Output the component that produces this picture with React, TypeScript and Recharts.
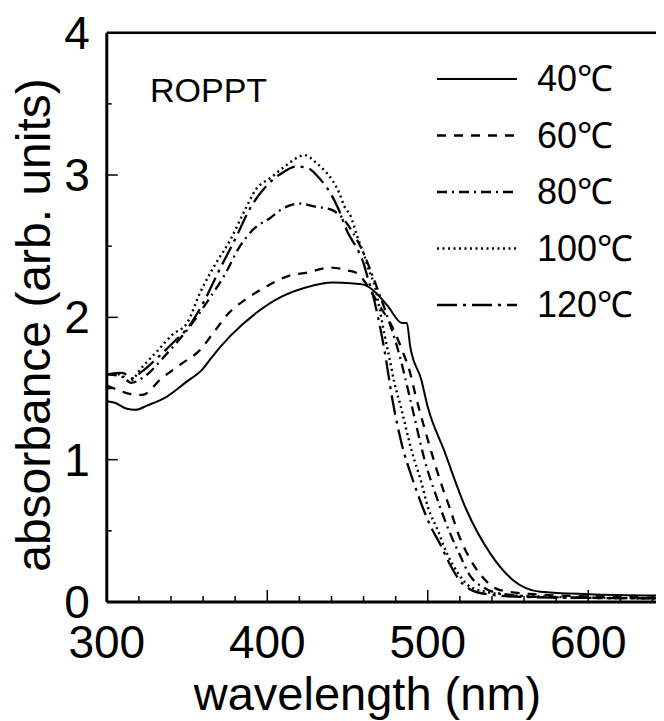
import {
  LineChart,
  Line,
  XAxis,
  YAxis,
  ReferenceLine,
  Legend,
  Label,
  Customized,
} from "recharts";

const FONT = '"Liberation Sans", Arial, Helvetica, sans-serif';

// wavelength (nm) / absorbance, one pair per temperature
const wl40 = [300, 305, 312, 318, 325, 337, 350, 360, 364, 377, 393, 408, 424, 441, 452, 460, 468, 475, 484, 487, 489, 496, 500, 510, 524, 539, 553, 570, 600, 650];
const abs40 = [1.41, 1.4, 1.36, 1.35, 1.38, 1.44, 1.55, 1.64, 1.7, 1.87, 2.03, 2.14, 2.21, 2.245, 2.24, 2.23, 2.17, 2.08, 1.96, 1.96, 1.8, 1.56, 1.37, 1.07, 0.65, 0.34, 0.155, 0.072, 0.055, 0.045];

const wl60 = [300, 307, 315, 322, 334, 346, 358, 367, 376, 387, 400, 413, 425, 439, 450, 456, 462, 470, 478, 484, 489, 492, 500, 509, 514, 519, 525, 533, 545, 566, 600, 650];
const abs60 = [1.52, 1.49, 1.46, 1.455, 1.57, 1.67, 1.77, 1.9, 2.03, 2.13, 2.22, 2.29, 2.315, 2.35, 2.33, 2.31, 2.23, 2.08, 1.93, 1.77, 1.61, 1.47, 1.14, 0.81, 0.65, 0.48, 0.33, 0.19, 0.084, 0.055, 0.04, 0.03];

const wl80 = [300, 310, 315, 323, 337, 352, 362, 373, 383, 391, 402, 409, 420, 429, 439, 445, 452, 460, 467, 475, 482, 490, 498, 506, 514, 520, 526, 535, 545, 570, 650];
const abs80 = [1.6, 1.58, 1.54, 1.58, 1.74, 1.94, 2.1, 2.29, 2.5, 2.615, 2.7, 2.76, 2.8, 2.78, 2.76, 2.72, 2.62, 2.45, 2.25, 2.0, 1.75, 1.38, 1.0, 0.72, 0.48, 0.33, 0.19, 0.1, 0.06, 0.035, 0.025];

const wl100 = [300, 308, 314, 322, 332, 341, 350, 358, 368, 377, 385, 393, 402, 412, 420, 423, 431, 441, 445, 448, 452, 456, 460, 464, 467, 470, 473, 476, 479, 483, 490, 496, 500, 506, 512, 519, 526, 537, 551, 580, 650];
const abs100 = [1.6, 1.6, 1.55, 1.65, 1.77, 1.88, 1.96, 2.17, 2.38, 2.545, 2.73, 2.9, 2.98, 3.07, 3.13, 3.14, 3.08, 2.955, 2.87, 2.78, 2.71, 2.57, 2.45, 2.31, 2.22, 2.06, 1.88, 1.72, 1.55, 1.38, 1.06, 0.84, 0.67, 0.51, 0.34, 0.2, 0.11, 0.07, 0.05, 0.035, 0.025];

const wl120 = [300, 310, 315, 322, 332, 342, 350, 360, 370, 380, 390, 400, 410, 418, 425, 433, 440, 444, 450, 457, 460, 463, 466, 469, 473, 478, 484, 490, 495, 501, 508, 514, 520, 528, 540, 560, 650];
const abs120 = [1.6, 1.61, 1.57, 1.62, 1.72, 1.83, 1.92, 2.1, 2.33, 2.55, 2.78, 2.93, 3.02, 3.06, 3.05, 2.97, 2.86, 2.77, 2.6, 2.46, 2.38, 2.26, 2.15, 2.0, 1.77, 1.42, 1.1, 0.88, 0.72, 0.55, 0.4, 0.26, 0.15, 0.08, 0.05, 0.035, 0.025];

const xTicks = [300, 320, 340, 360, 380, 400, 420, 440, 460, 480, 500, 520, 540, 560, 580, 600, 620, 640];
const yTicks = [0, 0.5, 1, 1.5, 2, 2.5, 3, 3.5, 4];

const toPoints = (xs: number[], ys: number[]) => xs.map((x, i) => ({ x, y: ys[i] }));

const series = [
  { name: "40℃", data: toPoints(wl40, abs40), dash: undefined, width: 2 },
  { name: "60℃", data: toPoints(wl60, abs60), dash: "9 8", width: 2.3 },
  { name: "80℃", data: toPoints(wl80, abs80), dash: "10 5 2 5", width: 2.3 },
  { name: "100℃", data: toPoints(wl100, abs100), dash: "2 3.5", width: 2.4 },
  { name: "120℃", data: toPoints(wl120, abs120), dash: "20 6 3 6", width: 2.3 },
];

const XTick = (props: any) => {
  const { x, y, payload } = props;
  const major = payload.value % 100 === 0;
  return (
    <g>
      <line x1={x} x2={x} y1={y} y2={y - (major ? 12 : 6)} stroke="#000" strokeWidth={1.5} />
      {major && (
        <text x={x} y={y + 56} textAnchor="middle" fontSize={46} fontFamily={FONT} fill="#000">
          {payload.value}
        </text>
      )}
    </g>
  );
};

const YTick = (props: any) => {
  const { x, y, payload } = props;
  const major = Number.isInteger(payload.value);
  return (
    <g>
      <line x1={x} x2={x + (major ? 11 : 5)} y1={y} y2={y} stroke="#000" strokeWidth={1.5} />
      {major && (
        <text x={x - 17} y={y + 16} textAnchor="end" fontSize={46} fontFamily={FONT} fill="#000">
          {payload.value}
        </text>
      )}
    </g>
  );
};

const renderLegend = () => (
  <svg width={250} height={290}>
    {series.map((s, i) => {
      const y = 31 + i * 56.5;
      return (
        <g key={s.name}>
          <line x1={9} x2={89} y1={y} y2={y} stroke="#000" strokeWidth={s.width} strokeDasharray={s.dash} />
          <text x={109} y={y + 12} fontSize={36} fontFamily={FONT} fill="#000">
            {s.name}
          </text>
        </g>
      );
    })}
  </svg>
);

export default function App() {
  return (
    <div style={{ width: 656, height: 713, overflow: "hidden", position: "relative" }}>
      <LineChart width={700} height={714} margin={{ top: 24.7, right: 39.5, bottom: 0, left: 0 }}>
        <XAxis
          type="number"
          dataKey="x"
          domain={[300, 650]}
          ticks={xTicks}
          interval={0}
          allowDataOverflow
          height={120}
          tickSize={0}
          tickMargin={0}
          tick={<XTick />}
          axisLine={{ stroke: "#000", strokeWidth: 3 }}
        >
          <Label
            content={() => (
              <text x={359.5} y={702} textAnchor="middle" fontSize={47} fontFamily={FONT} fill="#000">
                wavelength (nm)
              </text>
            )}
          />
        </XAxis>
        <YAxis
          type="number"
          domain={[0, 4]}
          ticks={yTicks}
          interval={0}
          width={98.8}
          tickSize={0}
          tickMargin={0}
          tick={<YTick />}
          axisLine={{ stroke: "#000", strokeWidth: 3 }}
        >
          <Label
            content={() => (
              <text
                x={42}
                y={317}
                transform="rotate(-90, 42, 317)"
                textAnchor="middle"
                fontSize={48}
                fontFamily={FONT}
                fill="#000"
              >
                absorbance (arb. units)
              </text>
            )}
          />
        </YAxis>
        <ReferenceLine y={4} stroke="#000" strokeWidth={2.5} ifOverflow="visible" />
        <ReferenceLine x={650} stroke="#000" strokeWidth={2.5} ifOverflow="visible" />
        {series.map((s) => (
          <Line
            key={s.name}
            name={s.name}
            data={s.data}
            dataKey="y"
            type="monotone"
            stroke="#000"
            strokeWidth={s.width}
            strokeDasharray={s.dash}
            dot={false}
            isAnimationActive={false}
          />
        ))}
        <Legend
          layout="vertical"
          align="center"
          verticalAlign="middle"
          content={renderLegend}
          wrapperStyle={{ left: 420, top: 40, width: 250, height: 290 }}
        />
        <Customized
          component={() => (
            <text x={142} y={94} fontSize={34} fontFamily={FONT} fill="#000">
              ROPPT
            </text>
          )}
        />
      </LineChart>
    </div>
  );
}
